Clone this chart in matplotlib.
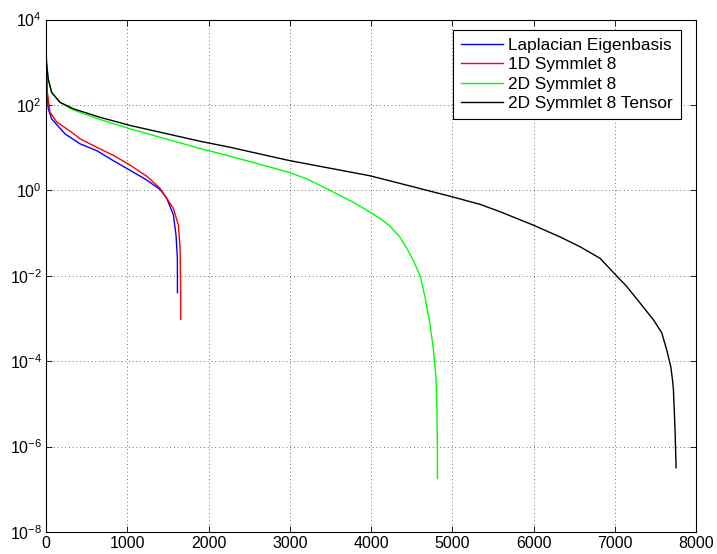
import matplotlib
matplotlib.use('Agg')
import matplotlib.pyplot as plt

# values
lap_x = [1, 5, 10, 28, 70, 234, 418, 624, 825, 1034, 1240, 1403, 1486, 1567, 1600, 1617, 1618]
lap_y = [3.2e3, 1.0e3, 3.0e2, 8.1e1, 4.7e1, 2.1e1, 1.23e1, 8.5, 5.0, 2.95, 1.74, 1.05, 0.65, 0.27, 0.091, 0.026, 0.004]

sym1_x = [1, 8, 16, 49, 131, 336, 418, 624, 829, 1034, 1240, 1403, 1567, 1629, 1650, 1658, 1659]
sym1_y = [2.0e3, 5.8e2, 1.95e2, 6.8e1, 4.0e1, 2.14e1, 1.62e1, 1.02e1, 6.6, 3.9, 2.14, 1.12, 0.38, 0.155, 0.045, 0.004, 0.00095]

sym2_x = [1, 5, 28, 70, 172, 336, 665, 1034, 1896, 2265, 2880, 2991, 3209, 3495, 3782, 3988, 4111, 4234,
          4358, 4440, 4521, 4604, 4665, 4727, 4768, 4801, 4812, 4817, 4818]
sym2_y = [2.0e3, 1.0e3, 3.98e2, 1.95e2, 1.15e2, 7.6e1, 4.57e1, 2.75e1, 9.55, 6.31, 3.02, 2.63, 1.86, 1.0, 0.525, 0.309, 0.219, 0.145,
          0.0794, 0.0437, 0.0229, 0.01, 0.00316, 7.1e-4, 1.9e-4, 3.9e-5, 6.3e-6, 1.1e-6, 1.8e-7]

ten_x = [1, 5, 28, 70, 172, 336, 665, 1034, 1896, 2265, 2991, 3988, 4358, 4994, 5342, 5588,
         5991, 6326, 6572, 6818, 6991, 7147, 7312, 7476, 7579, 7640, 7690, 7711, 7722, 7743, 7755]
ten_y = [2.0e3, 1.0e3, 3.98e2, 1.95e2, 1.15e2, 8.13e1, 5.13e1, 3.31e1, 1.41e1, 1.02e1, 5.0, 2.19, 1.45, 0.71, 0.47, 0.316,
         0.155, 0.0813, 0.0479, 0.0257, 0.0115, 0.00562, 0.00229, 9.3e-4, 4.6e-4, 1.82e-4, 7.4e-5, 3.6e-5, 2.2e-5, 2.2e-6, 3.2e-7]

labels = ['Laplacian Eigenbasis', '1D Symmlet 8', '2D Symmlet 8', '2D Symmlet 8 Tensor']

plt.rcParams['font.family'] = ['Liberation Sans', 'DejaVu Sans']
plt.rcParams['font.size'] = 11.5

fig = plt.figure(figsize=(7.17, 5.54), dpi=100)
ax = fig.add_axes([46 / 717, 22 / 554, 650 / 717, 512.5 / 554])

ax.semilogy(lap_x, lap_y, color='#0000ff', lw=1, label=labels[0])
ax.semilogy(sym1_x, sym1_y, color='#ff0000', lw=1, label=labels[1])
ax.semilogy(sym2_x, sym2_y, color='#00ff00', lw=1, label=labels[2])
ax.semilogy(ten_x, ten_y, color='#000000', lw=1, label=labels[3])

ax.set_xlim(0, 8000)
ax.set_ylim(1e-8, 1e4)
ax.set_xticks(range(0, 8001, 1000))
ax.set_yticks([10.0 ** k for k in range(-8, 5, 2)])
ax.minorticks_off()
ax.tick_params(direction='in', top=True, right=True, length=4, width=0.6, labelsize=11.5, pad=3)
ax.grid(True, linestyle=(0, (1, 3.5)), color='0.25', linewidth=0.6)
for s in ax.spines.values():
    s.set_linewidth(0.8)

leg = ax.legend(loc='upper right', bbox_to_anchor=(681 / 717, 1 - 30 / 554),
                bbox_transform=fig.transFigure, borderaxespad=0,
                fontsize=12.4, fancybox=False, framealpha=1, edgecolor='black',
                handlelength=2.45, handletextpad=0.3, labelspacing=0.25, borderpad=0.45)
leg.get_frame().set_linewidth(0.8)

fig.savefig('out.png', dpi=100)
